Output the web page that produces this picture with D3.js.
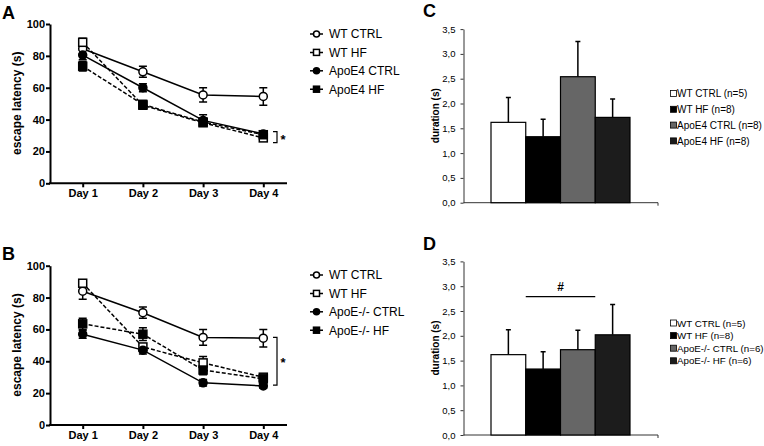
<!DOCTYPE html>
<html>
<head>
<meta charset="utf-8">
<script src="https://cdn.jsdelivr.net/npm/d3@7"></script>
<style>
  body { margin: 0; background: #fff; }
  svg { display: block; }
</style>
</head>
<body>
<svg id="fig" width="764" height="446"></svg>
<script>
// ---- data ----
var days = ["Day 1", "Day 2", "Day 3", "Day 4"];
var latencyTicks = [0, 20, 40, 60, 80, 100];

var groupsA = ["WT CTRL", "WT HF", "ApoE4 CTRL", "ApoE4 HF"];
var latencyA = [
    [84.5, 70, 55.5, 54.5],
    [88.5, 49, 38, 28.5],
    [80.5, 60, 39.5, 31],
    [73.5, 49.5, 38.5, 30.5]
];
var latencyAErr = [
    [3, 3.5, 4.5, 5.5],
    [2.5, 2, 2, 1.5],
    [3, 2.5, 3.5, 1.5],
    [3, 2.5, 2, 1.5]
];
var bracketA = [32.4, 25.5, 29]; // top, bottom, star position (s)

var groupsB = ["WT CTRL", "WT HF", "ApoE-/- CTRL", "ApoE-/- HF"];
var latencyB = [
    [84, 70.5, 55, 54.5],
    [89, 49, 39, 30],
    [57, 47, 26.5, 24.5],
    [63.5, 57, 34.5, 29]
];
var latencyBErr = [
    [5, 3.5, 5, 5.5],
    [2, 2, 4, 2],
    [2.5, 2.5, 2, 1.5],
    [3.5, 4, 3, 2]
];
var bracketB = [55, 25, 40.8];

var durationTicks = [0, 0.5, 1, 1.5, 2, 2.5, 3, 3.5];
var barGroupsC = ["WT CTRL (n=5)", "WT HF (n=8)", "ApoE4 CTRL (n=8)", "ApoE4 HF (n=8)"];
var durationC = [1.62, 1.33, 2.54, 1.72];
var durationCErr = [0.5, 0.35, 0.71, 0.37];

var barGroupsD = ["WT CTRL (n=5)", "WT HF (n=8)", "ApoE-/- CTRL (n=6)", "ApoE-/- HF (n=6)"];
var durationD = [1.62, 1.33, 1.72, 2.02];
var durationDErr = [0.5, 0.35, 0.39, 0.61];
var sigD = [1, 2, 2.79]; // from bar, to bar, height

var FONT = "Arial, 'Liberation Sans', sans-serif";
var markerType = ["circle", "square", "circle", "square"];
var markerFill = ["#fff", "#fff", "#000", "#000"];
var dashes = [null, "4,2", null, "4,2"];
var barFill = ["#fff", "#000", "#666", "#1c1c1c"];

var svg = d3.select("#fig");
svg.append("rect").attr("width", 764).attr("height", 446).attr("fill", "#fff");

function marker(g, type, fill, cx, cy, s) {
    if (type == "circle") {
        g.append("circle").attr("cx", cx).attr("cy", cy).attr("r", s / 2)
            .attr("fill", fill).attr("stroke", "#000").attr("stroke-width", 1.5);
    } else {
        g.append("rect").attr("x", cx - s / 2).attr("y", cy - s / 2)
            .attr("width", s).attr("height", s)
            .attr("fill", fill).attr("stroke", "#000").attr("stroke-width", 1.5);
    }
}

function panelLetter(txt, x, y) {
    svg.append("text").attr("x", x).attr("y", y).text(txt)
        .attr("font-family", FONT).attr("font-weight", "bold").attr("font-size", 18);
}

// line chart of escape latency (panels A and B)
function drawLatency(yBase, groups, means, errs, bracket, legendTop) {
    var g = svg.append("g");
    var x = d3.scalePoint().domain(days).range([82.7, 263.3]);
    var y = d3.scaleLinear().domain([0, 100]).range([yBase, yBase - 159.3]);

    var yAx = g.append("g").attr("transform", "translate(50,0)")
        .call(d3.axisLeft(y).tickValues(latencyTicks).tickSize(4).tickSizeOuter(0).tickPadding(1));
    yAx.attr("font-family", FONT).attr("font-size", 11).attr("font-weight", "bold");
    yAx.select(".domain").attr("stroke-width", 2);
    yAx.selectAll(".tick line").attr("stroke-width", 2);

    g.append("line").attr("x1", 49).attr("x2", 287).attr("y1", y(0)).attr("y2", y(0))
        .attr("stroke", "#000").attr("stroke-width", 2);
    var xAx = g.append("g").attr("transform", "translate(0," + y(0) + ")")
        .call(d3.axisBottom(x).tickSize(4).tickPadding(2));
    xAx.attr("font-family", FONT).attr("font-size", 11).attr("font-weight", "bold");
    xAx.select(".domain").remove();
    xAx.selectAll(".tick line").attr("stroke-width", 2);

    g.append("text")
        .attr("transform", "translate(21," + (yBase - 80) + ") rotate(-90)")
        .attr("text-anchor", "middle")
        .attr("font-family", FONT).attr("font-size", 12).attr("font-weight", "bold")
        .text("escape latency (s)");

    var line = d3.line().x(function(d, i) { return x(days[i]); }).y(function(d) { return y(d); });

    means.forEach(function(m, k) {
        g.append("path").attr("d", line(m)).attr("fill", "none")
            .attr("stroke", "#000").attr("stroke-width", 1.5)
            .attr("stroke-dasharray", dashes[k]);
    });
    means.forEach(function(m, k) {
        m.forEach(function(v, i) {
            var cx = x(days[i]), e = errs[k][i];
            g.append("path")
                .attr("d", "M" + (cx - 4) + "," + y(v + e) + "H" + (cx + 4) +
                    "M" + cx + "," + y(v + e) + "V" + y(v - e) +
                    "M" + (cx - 4) + "," + y(v - e) + "H" + (cx + 4))
                .attr("stroke", "#000").attr("stroke-width", 1.5).attr("fill", "none");
        });
    });
    means.forEach(function(m, k) {
        m.forEach(function(v, i) {
            marker(g, markerType[k], markerFill[k], x(days[i]), y(v), 8);
        });
    });

    // significance bracket at Day 4
    g.append("path")
        .attr("d", "M273," + y(bracket[0]) + "H277V" + y(bracket[1]) + "H273")
        .attr("fill", "none").attr("stroke", "#000").attr("stroke-width", 1.2);
    g.append("text").attr("x", 283).attr("y", y(bracket[2])).attr("dy", "0.55em")
        .attr("text-anchor", "middle")
        .attr("font-family", FONT).attr("font-size", 13).attr("font-weight", "bold").text("*");

    // legend
    groups.forEach(function(name, k) {
        var ly = legendTop + k * 18.4;
        g.append("line").attr("x1", 310).attr("x2", 323).attr("y1", ly).attr("y2", ly)
            .attr("stroke", "#000").attr("stroke-width", 1.5)
            .attr("stroke-dasharray", dashes[k] ? "3,2" : null);
        marker(g, markerType[k], markerFill[k], 316.5, ly, 6);
        g.append("text").attr("x", 329).attr("y", ly).attr("dy", "0.36em")
            .attr("font-family", FONT).attr("font-size", 12).text(name);
    });
}

// bar chart of duration (panels C and D)
function drawDuration(yBase, groups, vals, errs, legendTop, legendStep, legendFont, sig) {
    var g = svg.append("g");
    var x = d3.scaleBand().domain(d3.range(vals.length)).range([491, 630]).padding(0);
    var y = d3.scaleLinear().domain([0, 3.5]).range([yBase, yBase - 173.6]);
    var fmt = function(d) { return d3.format(".1f")(d).replace(".", ","); };

    var yAx = g.append("g").attr("transform", "translate(463.5,0)")
        .call(d3.axisLeft(y).tickValues(durationTicks).tickFormat(fmt)
            .tickSize(3).tickSizeOuter(0).tickPadding(5));
    yAx.attr("font-family", FONT).attr("font-size", 9.5).attr("fill", "#222");
    yAx.selectAll("path, line").attr("stroke", "#333");

    g.append("line").attr("x1", 463.5).attr("x2", 658).attr("y1", y(0)).attr("y2", y(0))
        .attr("stroke", "#333").attr("stroke-width", 1);
    g.append("line").attr("x1", 658).attr("x2", 658).attr("y1", y(0)).attr("y2", y(0) + 3)
        .attr("stroke", "#333");

    g.append("text")
        .attr("transform", "translate(439," + (yBase - 87) + ") rotate(-90)")
        .attr("text-anchor", "middle")
        .attr("font-family", FONT).attr("font-size", 10).attr("font-weight", "bold")
        .text("duration (s)");

    vals.forEach(function(v, i) {
        var cx = x(i) + x.bandwidth() / 2;
        g.append("path")
            .attr("d", "M" + cx + "," + y(v) + "V" + y(v + errs[i]) +
                "M" + (cx - 2.5) + "," + y(v + errs[i]) + "H" + (cx + 2.5))
            .attr("stroke", "#000").attr("stroke-width", 1.5);
    });
    vals.forEach(function(v, i) {
        g.append("rect").attr("x", x(i)).attr("y", y(v))
            .attr("width", x.bandwidth()).attr("height", y(0) - y(v))
            .attr("fill", barFill[i]).attr("stroke", "#000").attr("stroke-width", 1.2);
    });

    if (sig) {
        g.append("line").attr("x1", x(sig[0])).attr("x2", x(sig[1]) + x.bandwidth())
            .attr("y1", y(sig[2])).attr("y2", y(sig[2]))
            .attr("stroke", "#000").attr("stroke-width", 1.3);
        g.append("text").attr("x", (x(sig[0]) + x(sig[1]) + x.bandwidth()) / 2)
            .attr("y", y(sig[2]) - 6).attr("text-anchor", "middle")
            .attr("font-family", FONT).attr("font-size", 12).attr("font-weight", "bold").text("#");
    }

    groups.forEach(function(name, i) {
        var ly = legendTop + i * legendStep;
        g.append("rect").attr("x", 670.5).attr("y", ly - 3).attr("width", 6).attr("height", 6)
            .attr("fill", barFill[i]).attr("stroke", "#000").attr("stroke-width", 0.8);
        g.append("text").attr("x", 677).attr("y", ly).attr("dy", "0.36em")
            .attr("font-family", FONT).attr("font-size", legendFont).text(name);
    });
}

drawLatency(183.3, groupsA, latencyA, latencyAErr, bracketA, 34);
drawLatency(425, groupsB, latencyB, latencyBErr, bracketB, 275);
drawDuration(202.7, barGroupsC, durationC, durationCErr, 93.5, 15.8, 10, null);
drawDuration(435, barGroupsD, durationD, durationDErr, 323, 12.6, 9.75, sigD);

panelLetter("A", 2, 18.5);
panelLetter("B", 2, 259.5);
panelLetter("C", 423, 17);
panelLetter("D", 423, 250);
</script>
</body>
</html>
